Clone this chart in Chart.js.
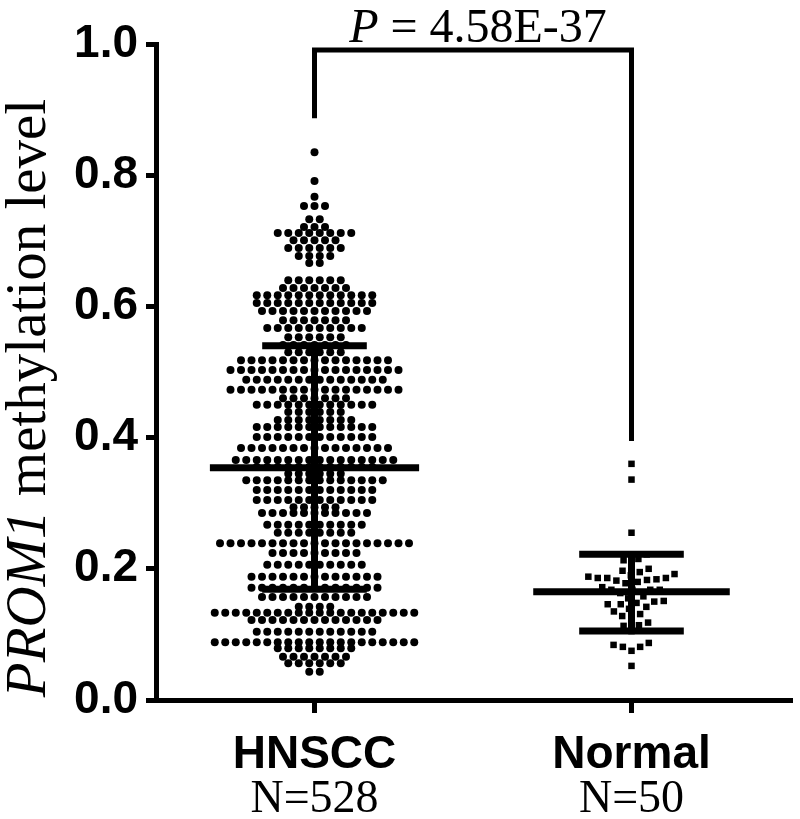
<!DOCTYPE html>
<html>
<head>
<meta charset="utf-8">
<script src="https://cdn.jsdelivr.net/npm/chart.js@4.4.1/dist/chart.umd.min.js"></script>
<style>html,body{margin:0;padding:0;background:#fff}</style>
</head>
<body>
<canvas id="chart" width="800" height="819"></canvas>
<script>
// ---- data ----
const groups = ["HNSCC", "Normal"];
const groupN = ["N=528", "N=50"];
const groupPos = [0.5, 1.5];
const groupMean = [0.354, 0.165];
const groupUpper = [0.540, 0.222];
const groupLower = [0.169, 0.105];
const pValue = "4.58E-37";

// HNSCC dots come in rows: level of each row, and how many dots sit in it
const hnsccRowLevel = [0.835, 0.791, 0.767, 0.753, 0.733, 0.721, 0.712, 0.701, 0.689, 0.677, 0.666,
  0.640, 0.628, 0.617, 0.605, 0.593, 0.579, 0.567, 0.553, 0.541, 0.530, 0.518, 0.503, 0.488, 0.473,
  0.460, 0.450, 0.439, 0.427, 0.416, 0.401, 0.384, 0.366, 0.355, 0.345, 0.335, 0.320, 0.305, 0.294,
  0.285, 0.267, 0.255, 0.239, 0.224, 0.206, 0.188, 0.171, 0.157, 0.142, 0.133, 0.122, 0.104, 0.088,
  0.079, 0.066, 0.056, 0.043];
const hnsccRowCount = [1, 1, 1, 3, 2, 3, 8, 5, 6, 4, 2,
  6, 7, 12, 12, 11, 7, 10, 6, 7, 6, 15, 17, 14, 17,
  7, 12, 6, 8, 12, 12, 15, 16, 12, 6, 14, 12, 12, 5,
  11, 10, 8, 19, 9, 10, 13, 13, 11, 4, 20, 13, 12, 20,
  8, 7, 6, 2];

const normalValues = [0.360, 0.336, 0.255, 0.222, 0.215, 0.213, 0.205, 0.200, 0.197, 0.195,
  0.192, 0.190, 0.188, 0.186, 0.186, 0.186, 0.184, 0.183, 0.182, 0.180,
  0.178, 0.172, 0.168, 0.168, 0.168, 0.168, 0.163, 0.158, 0.155, 0.151,
  0.150, 0.148, 0.146, 0.146, 0.142, 0.139, 0.135, 0.131, 0.128, 0.125,
  0.118, 0.114, 0.113, 0.105, 0.087, 0.084, 0.081, 0.081, 0.075, 0.052];

// significance bracket: top, left leg end, right leg end
const bracketY = [0.991, 0.887, 0.395];

// ---- layout of the dots (px per unit, roughly) ----
const PX_X = 317, PX_Y = 656;

const hnsccPoints = [];
hnsccRowLevel.forEach((lv, r) => {
  const n = hnsccRowCount[r];
  for (let i = 0; i < n; i++) {
    hnsccPoints.push({x: groupPos[0] + (i - (n - 1) / 2) * 10.5 / PX_X, y: lv});
  }
});

function swarm(values, cx, d) {
  const placed = [];
  values.slice().sort((a, b) => a - b).forEach(v => {
    const py = v * PX_Y;
    const blocks = [];
    placed.forEach(p => {
      const dy = Math.abs(p.py - py);
      if (dy < d) {
        const w = Math.sqrt(d * d - dy * dy);
        blocks.push([p.px - w, p.px + w]);
      }
    });
    const cands = [0];
    blocks.forEach(b => cands.push(b[0], b[1]));
    cands.sort((a, b) => Math.abs(a) - Math.abs(b));
    const px = cands.find(c => blocks.every(b => c <= b[0] + 1e-6 || c >= b[1] - 1e-6));
    placed.push({px: px, py: py});
  });
  return placed.map(p => ({x: cx + p.px / PX_X, y: p.py / PX_Y}));
}
const normalPoints = swarm(normalValues, groupPos[1], 9.5);

function seg(pts, width) {
  return {
    data: pts.map(p => ({x: p[0], y: p[1]})),
    showLine: true, borderColor: "#000", borderWidth: width,
    pointRadius: 0, clip: false, order: 0, borderJoinStyle: "miter"
  };
}

const meanHalf = [0.33, 0.31];
const capHalf = 0.165;
const barSets = [];
groupPos.forEach((x, i) => {
  barSets.push(seg([[x, groupLower[i]], [x, groupUpper[i]]], 7));
  barSets.push(seg([[x - capHalf, groupUpper[i]], [x + capHalf, groupUpper[i]]], 7));
  barSets.push(seg([[x - capHalf, groupLower[i]], [x + capHalf, groupLower[i]]], 7));
  barSets.push(seg([[x - meanHalf[i], groupMean[i]], [x + meanHalf[i], groupMean[i]]], 7));
});
barSets.push(seg([[groupPos[0], bracketY[1]], [groupPos[0], bracketY[0]],
  [groupPos[1], bracketY[0]], [groupPos[1], bracketY[2]]], 5));

const textPlugin = {
  id: "texts",
  afterDraw(chart) {
    const ctx = chart.ctx;
    const xs = chart.scales.x;
    ctx.save();
    ctx.fillStyle = "#000";
    ctx.textBaseline = "alphabetic";

    // P value
    ctx.font = "italic 48px 'Liberation Serif'";
    const wP = ctx.measureText("P").width;
    ctx.font = "48px 'Liberation Serif'";
    const rest = " = " + pValue;
    const wR = ctx.measureText(rest).width;
    let x0 = 478 - (wP + wR) / 2;
    ctx.textAlign = "left";
    ctx.font = "italic 48px 'Liberation Serif'";
    ctx.fillText("P", x0, 42);
    ctx.font = "48px 'Liberation Serif'";
    ctx.fillText(rest, x0 + wP, 42);

    // category labels
    ctx.textAlign = "center";
    groups.forEach((g, i) => {
      const px = xs.getPixelForValue(groupPos[i]);
      ctx.font = "bold 46px 'Liberation Sans'";
      ctx.fillText(g, px, 768);
      ctx.font = "46px 'Liberation Serif'";
      ctx.fillText(groupN[i], px, 812);
    });

    // y title
    ctx.translate(45, 398);
    ctx.rotate(-Math.PI / 2);
    ctx.font = "italic 57px 'Liberation Serif'";
    const wa = ctx.measureText("PROM1").width;
    ctx.font = "57px 'Liberation Serif'";
    const tb = " methylation level";
    const wb = ctx.measureText(tb).width;
    ctx.textAlign = "left";
    ctx.font = "italic 57px 'Liberation Serif'";
    ctx.fillText("PROM1", -(wa + wb) / 2, 0);
    ctx.font = "57px 'Liberation Serif'";
    ctx.fillText(tb, -(wa + wb) / 2 + wa, 0);
    ctx.restore();
  }
};

new Chart(document.getElementById("chart"), {
  type: "scatter",
  data: {
    datasets: [
      {data: hnsccPoints, pointStyle: "circle", pointRadius: 4, backgroundColor: "#000",
       borderWidth: 0, order: 1},
      {data: normalPoints, pointStyle: "rect", pointRadius: 4.6, backgroundColor: "#000",
       borderWidth: 0, order: 1},
      ...barSets
    ]
  },
  options: {
    responsive: false,
    animation: false,
    events: [],
    layout: {padding: {top: 44, right: 10, left: 0, bottom: 0}},
    plugins: {legend: {display: false}, tooltip: {enabled: false}},
    scales: {
      x: {
        type: "linear", min: 0, max: 2,
        afterBuildTicks: s => { s.ticks = groupPos.map(v => ({value: v})); },
        afterFit: s => { s.height = 119; },
        ticks: {display: false},
        grid: {drawOnChartArea: false, drawTicks: true, tickLength: 13, lineWidth: 5, color: "#000"},
        border: {display: true, width: 5, color: "#000"}
      },
      y: {
        min: 0, max: 1,
        afterFit: s => { s.width = 156; },
        ticks: {
          stepSize: 0.2, padding: 8, color: "#000",
          font: {family: "'Liberation Sans'", size: 46, weight: "bold"},
          callback: v => v.toFixed(1)
        },
        grid: {drawOnChartArea: false, drawTicks: true, tickLength: 10, lineWidth: 5, color: "#000"},
        border: {display: true, width: 5, color: "#000"}
      }
    }
  },
  plugins: [textPlugin]
});
</script>
</body>
</html>
